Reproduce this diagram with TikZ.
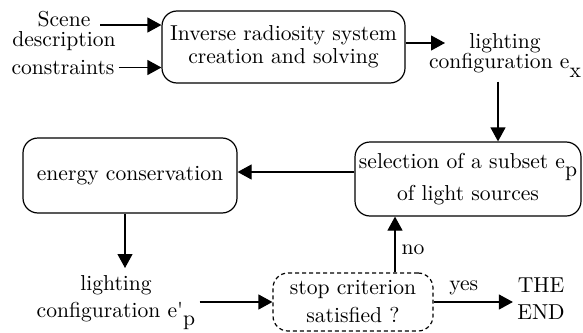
\documentclass[tikz,border=0pt]{standalone}
\usetikzlibrary{arrows.meta,calc}
\newcommand{\lowsub}[1]{\raisebox{-0.38em}{#1}}
\newcommand{\diagfont}{\rmfamily\fontsize{10.8}{10}\selectfont\lineskiplimit=-20pt}

\begin{document}
\begin{tikzpicture}[
    x=0.5pt,
    y=-0.5pt,
    font=\diagfont,
    box/.style={
        draw,
        line width=0.6pt,
        rounded corners=7.5pt,
        align=center,
        inner sep=0pt
    },
    stopbox/.style={
        draw,
        line width=0.6pt,
        rounded corners=7.5pt,
        dash pattern=on 2pt off 1.5pt,
        align=center,
        inner sep=0pt
    },
    txt/.style={
        align=center,
        inner sep=2pt
    },
    arr/.style={
        -{Triangle[length=7pt,width=7.5pt]},
        line width=0.6pt
    }
]
\useasboundingbox (0,0) rectangle (583,332);

\node[txt] (scene) at (64,30.5) {Scene\\description};
\node[txt] (constr) at (63,67.5) {constraints};
\node[box, minimum width=121.5pt, minimum height=36pt] (sys) at (283.5,47) {Inverse radiosity system\\[1.5pt]creation and solving};
\node[txt] (litx) at (505,55.5) {lighting\\configuration e\lowsub{x}};

\node[box, minimum width=113pt, minimum height=37pt] (sel) at (468,179) {selection of a subset e\lowsub{p}\\[6pt]of light sources};
\node[box, minimum width=107pt, minimum height=37.5pt] (eng) at (130,175.5) {energy conservation};

\node[txt] (litp) at (116,302.5) {lighting\\[3.5pt]configuration e\textquotesingle\lowsub{p}};
\node[stopbox, minimum width=80pt, minimum height=29pt] (stop) at (353,302) {stop criterion\\[4pt]satisfied ?};
\node[txt] (theend) at (541,299) {THE\\[3.5pt]END};

% free ends of the incoming arrows
\coordinate (scenein) at (100,25);
\coordinate (litxin) at (445,43);
\coordinate (litpin) at (125,268);

\draw[arr] (scenein) -- (scenein -| sys.west);
\draw[arr] (constr.east) -- (constr.east -| sys.west);
\draw[arr] (sys.east |- litxin) -- (litxin);
\draw[arr] ([xshift=-3.5pt]litx.south) -- ([xshift=-3.5pt]litx.south |- sel.north);
\draw[arr] ([yshift=3.5pt]sel.west) -- ([yshift=3.5pt]sel.west -| eng.east);
\draw[arr] (eng.south -| litpin) -- (litpin);
\draw[arr] (stop.west -| litp.east) -- (stop.west);
\draw[arr] ([xshift=21pt]stop.north) -- ([xshift=21pt]stop.north |- sel.south)
    node[pos=0.4, right=1pt, inner sep=2pt] {no};
\draw[arr] (stop.east) -- (stop.east -| theend.west)
    node[pos=0.38, above=1pt, inner sep=2pt] {yes};

\end{tikzpicture}
\end{document}
